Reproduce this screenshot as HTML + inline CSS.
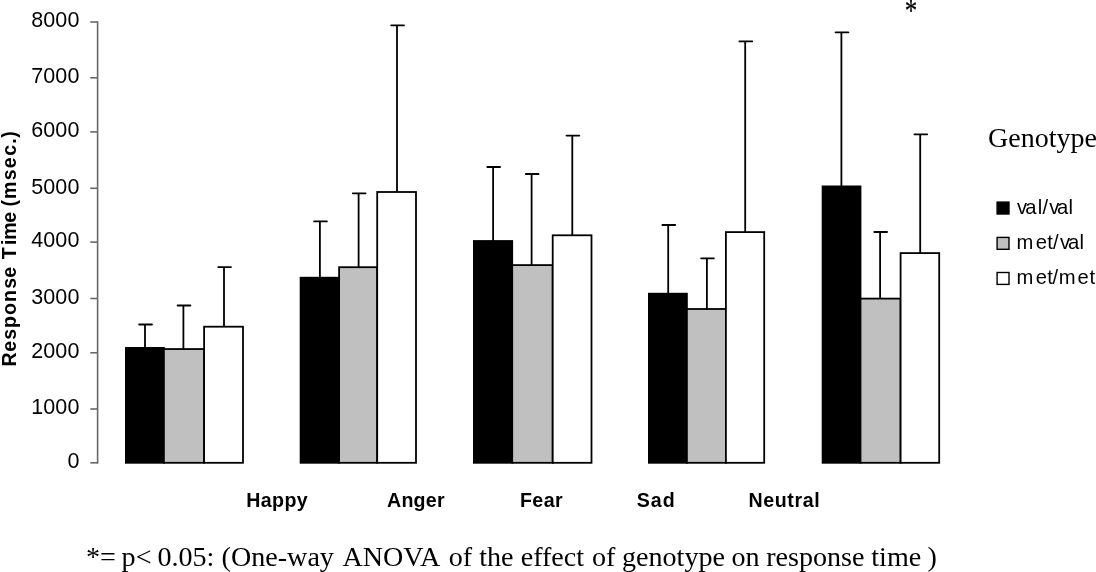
<!DOCTYPE html>
<html><head><meta charset="utf-8"><title>Response time by genotype</title>
<style>
html,body{margin:0;padding:0;background:#fff;}
svg{display:block;will-change:transform;}
.tick{font-family:"Liberation Sans",Arial,sans-serif;font-size:21.5px;letter-spacing:0.15px;fill:#000;}
.cat{font-family:"Liberation Sans",Arial,sans-serif;font-size:19.6px;font-weight:bold;fill:#000;}
.leg{font-family:"Liberation Sans",Arial,sans-serif;font-size:20.2px;fill:#000;}
.ser{font-family:"Liberation Serif","Times New Roman",serif;fill:#000;}
</style></head><body>
<svg width="1096" height="572" viewBox="0 0 1096 572">
<rect width="1096" height="572" fill="#fff"/>

<g stroke="#686868" stroke-width="1.6" fill="none">
<line x1="97.6" y1="21.3" x2="97.6" y2="463.7"/>
<line x1="90.3" y1="462.8" x2="97.6" y2="462.8"/>
<line x1="90.3" y1="409.0" x2="97.6" y2="409.0"/>
<line x1="90.3" y1="352.8" x2="97.6" y2="352.8"/>
<line x1="90.3" y1="298.5" x2="97.6" y2="298.5"/>
<line x1="90.3" y1="242.1" x2="97.6" y2="242.1"/>
<line x1="90.3" y1="188.3" x2="97.6" y2="188.3"/>
<line x1="90.3" y1="131.9" x2="97.6" y2="131.9"/>
<line x1="90.3" y1="77.8" x2="97.6" y2="77.8"/>
<line x1="90.3" y1="22.0" x2="97.6" y2="22.0"/>
</g>
<text class="tick" x="79.6" y="468.1" text-anchor="end">0</text>
<text class="tick" x="79.6" y="414.3" text-anchor="end">1000</text>
<text class="tick" x="79.6" y="358.1" text-anchor="end">2000</text>
<text class="tick" x="79.6" y="303.8" text-anchor="end">3000</text>
<text class="tick" x="79.6" y="247.4" text-anchor="end">4000</text>
<text class="tick" x="79.6" y="193.6" text-anchor="end">5000</text>
<text class="tick" x="79.6" y="137.2" text-anchor="end">6000</text>
<text class="tick" x="79.6" y="83.1" text-anchor="end">7000</text>
<text class="tick" x="79.6" y="27.3" text-anchor="end">8000</text>
<g stroke="#000" stroke-width="1.8" fill="none" stroke-linecap="round">
<path d="M145.0 348.0V324.5M139.20 324.5H152.00"/>
<path d="M183.4 350.1V305.5M177.60 305.5H190.40"/>
<path d="M224.0 327.7V267.1M218.20 267.1H231.00"/>
</g>
<rect x="125.0" y="347.0" width="39.8" height="116.7" fill="#000"/>
<rect x="163.90" y="349.05" width="40.20" height="113.75" fill="#c0c0c0" stroke="#000" stroke-width="1.8"/>
<rect x="204.10" y="326.70" width="38.90" height="136.10" fill="#fff" stroke="#000" stroke-width="1.8"/>
<g stroke="#000" stroke-width="1.8" fill="none" stroke-linecap="round">
<path d="M319.9 277.8V221.4M314.10 221.4H326.90"/>
<path d="M358.6 268.2V193.3M352.80 193.3H365.60"/>
<path d="M397.0 193.0V25.4M391.20 25.4H404.00"/>
</g>
<rect x="299.7" y="276.8" width="40.3" height="186.9" fill="#000"/>
<rect x="339.10" y="267.20" width="38.10" height="195.60" fill="#c0c0c0" stroke="#000" stroke-width="1.8"/>
<rect x="377.20" y="192.00" width="38.80" height="270.80" fill="#fff" stroke="#000" stroke-width="1.8"/>
<g stroke="#000" stroke-width="1.8" fill="none" stroke-linecap="round">
<path d="M493.1 241.1V167.0M487.30 167.0H500.10"/>
<path d="M531.6 266.1V174.0M525.80 174.0H538.60"/>
<path d="M572.3 236.3V135.6M566.50 135.6H579.30"/>
</g>
<rect x="473.0" y="240.1" width="40.1" height="223.6" fill="#000"/>
<rect x="512.20" y="265.10" width="40.50" height="197.70" fill="#c0c0c0" stroke="#000" stroke-width="1.8"/>
<rect x="552.70" y="235.30" width="38.80" height="227.50" fill="#fff" stroke="#000" stroke-width="1.8"/>
<g stroke="#000" stroke-width="1.8" fill="none" stroke-linecap="round">
<path d="M668.2 293.8V225.0M662.40 225.0H675.20"/>
<path d="M706.9 310.0V258.3M701.10 258.3H713.90"/>
<path d="M745.2 233.1V41.4M739.40 41.4H752.20"/>
</g>
<rect x="648.0" y="292.8" width="39.8" height="170.9" fill="#000"/>
<rect x="686.90" y="309.00" width="39.00" height="153.80" fill="#c0c0c0" stroke="#000" stroke-width="1.8"/>
<rect x="725.90" y="232.10" width="38.30" height="230.70" fill="#fff" stroke="#000" stroke-width="1.8"/>
<g stroke="#000" stroke-width="1.8" fill="none" stroke-linecap="round">
<path d="M841.4 186.5V32.4M835.60 32.4H848.40"/>
<path d="M880.1 299.6V232.0M874.30 232.0H887.10"/>
<path d="M920.2 254.1V134.3M914.40 134.3H927.20"/>
</g>
<rect x="821.7" y="185.5" width="39.7" height="278.2" fill="#000"/>
<rect x="860.50" y="298.60" width="40.10" height="164.20" fill="#c0c0c0" stroke="#000" stroke-width="1.8"/>
<rect x="900.60" y="253.10" width="38.60" height="209.70" fill="#fff" stroke="#000" stroke-width="1.8"/>
<text class="cat" x="246.2" y="507.3" textLength="61.5" lengthAdjust="spacing">Happy</text>
<text class="cat" x="387.0" y="507.3" textLength="57.6" lengthAdjust="spacing">Anger</text>
<text class="cat" x="520.0" y="507.3" textLength="42.6" lengthAdjust="spacing">Fear</text>
<text class="cat" x="636.7" y="507.3" textLength="38.0" lengthAdjust="spacing">Sad</text>
<text class="cat" x="748.4" y="507.3" textLength="71.4" lengthAdjust="spacing">Neutral</text>
<text class="cat" transform="translate(15.9,366.3) rotate(-90)" x="-0.3 14.67 26.49 38.42 51.2 64.28 77.47 88.49 100.21 107.18 121.32 126.59 143.5 155.17 159.93 167.38 186.03 197.96 210.48 222.5 228.57" y="0">Response Time (msec.)</text>
<text class="ser" transform="translate(911,21.3) scale(1,1.27)" x="0" y="0" text-anchor="middle" style="font-size:25px" stroke="#000" stroke-width="0.2">*</text>
<text class="ser" x="988.1" y="146.5" style="font-size:28px">Genotype</text>
<rect x="997.1" y="202.1" width="11.9" height="11.9" fill="#000" stroke="#000" stroke-width="1.4"/>
<text class="leg" x="1017.1 1025.3 1037.8 1042.6 1049.3 1057.0 1068.4" y="214.2">val/val</text>
<rect x="997.1" y="237.4" width="11.9" height="11.9" fill="#c0c0c0" stroke="#000" stroke-width="1.4"/>
<text class="leg" x="1016.5 1035.7 1047.3 1053.0 1060.1 1068.1 1079.6" y="249.2">met/val</text>
<rect x="997.1" y="272.5" width="11.9" height="11.9" fill="#fff" stroke="#000" stroke-width="1.4"/>
<text class="leg" x="1016.5 1035.7 1047.3 1052.4 1058.8 1077.5 1089.6" y="284.2">met/met</text>
<text class="ser" y="565.7" style="font-size:28.1px"><tspan x="86.0">*=</tspan> <tspan x="121.6">p&lt;</tspan> <tspan x="157.4">0.05:</tspan> <tspan x="221.6">(One-way</tspan> <tspan x="342.4">ANOVA</tspan> <tspan x="448.7">of</tspan> <tspan x="479.2">the</tspan> <tspan x="520.7">effect</tspan> <tspan x="592.0">of</tspan> <tspan x="622.0">genotype</tspan> <tspan x="731.5">on</tspan> <tspan x="766.2">response</tspan> <tspan x="871.3">time</tspan> <tspan x="927.6">)</tspan></text>
</svg></body></html>
